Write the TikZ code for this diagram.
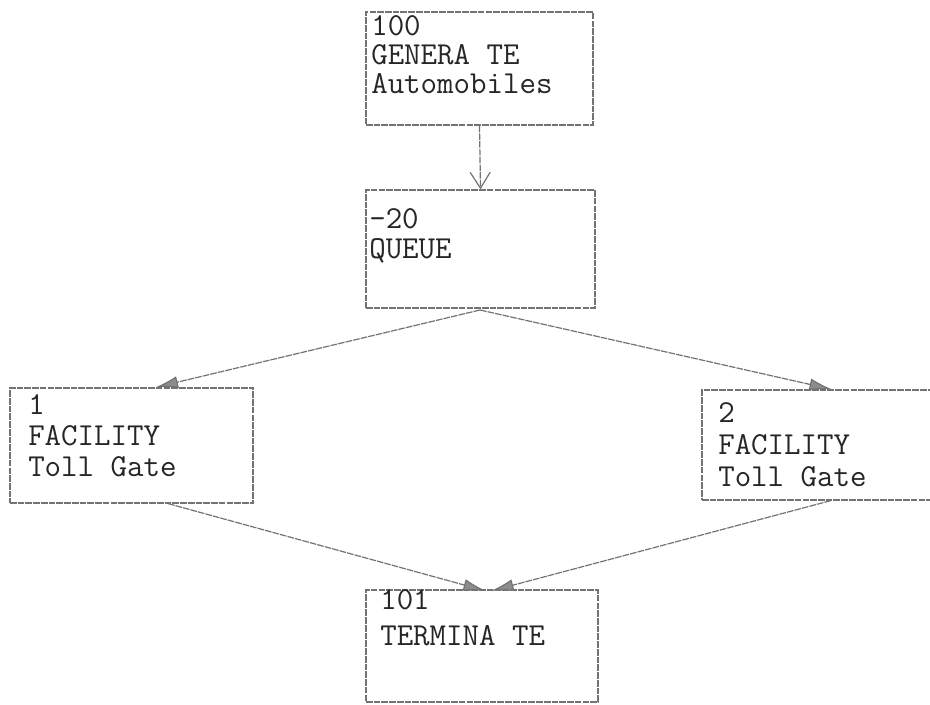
\documentclass[tikz,border=0pt]{standalone}
\usepackage{fontspec}
\usetikzlibrary{arrows.meta,calc}
\begin{document}
\begin{tikzpicture}[x=0.75pt,y=-0.75pt,
  blk/.style={draw=black!55, line width=0.9pt, dash pattern=on 5pt off 0.8pt, rectangle, inner sep=0pt},
  lbl/.style={anchor=base west, inner sep=0pt, align=left, font=\ttfamily\fontsize{24}{23}\selectfont, text=black!85},
  flow/.style={draw=black!55, line width=0.9pt, dash pattern=on 5pt off 0.8pt},
  openhead/.style={-{Straight Barb[length=12pt,width=15pt,line width=0.9pt]}},
  fillhead/.style={-{Latex[length=17pt,width=9pt,fill=black!45]}}
]
\useasboundingbox[fill=white] (0,0) rectangle (930,705);

% blocks
\node[blk, minimum width=170.25pt, minimum height=84.75pt] (gen) at (479.5,68.5) {};
\node[blk, minimum width=171.75pt, minimum height=88.5pt] (queue) at (480.5,249) {};
\node[blk, minimum width=182.25pt, minimum height=86.25pt] (f1) at (131.5,445.5) {};
\node[blk, minimum width=182.25pt, minimum height=82.5pt] (f2) at (823.5,445) {};
\node[blk, minimum width=174pt, minimum height=84pt] (term) at (482,646) {};

% texts (anchor = baseline of the last line)
\node[lbl] (genT) at (371,94) {100\\[-1pt]GENERA TE\\[-1pt]Automobiles};
\node[lbl] (queueT) at (369,259) {-20\\[0pt]QUEUE};
\node[lbl] (f1T) at (28,476) {1\\[0pt]FACILITY\\[0pt]Toll Gate};
\node[lbl] (f2T) at (718,486) {2\\[1pt]FACILITY\\[1pt]Toll Gate};
\node[lbl] (termT) at (380,645) {101\\[4pt]TERMINA TE};

% connector end points
\coordinate (qout) at (480,310);
\coordinate (f1in) at ($(f1.north west)!0.598!(f1.north east)$);
\coordinate (f2in) at ($(f2.north west)!0.535!(f2.north east)$);
\coordinate (f1out) at ($(f1.south west)!0.65!(f1.south east)$);
\coordinate (f2out) at ($(f2.south west)!0.53!(f2.south east)$);
\coordinate (tinL) at (486,591);
\coordinate (tinR) at (491,591);

% connectors
\draw[flow, openhead] (gen.south) -- (queue.north);
\draw[flow, fillhead] (qout) -- (f1in);
\draw[flow, fillhead] (qout) -- (f2in);
\draw[flow, fillhead] (f1out) -- (tinL);
\draw[flow, fillhead] (f2out) -- (tinR);
\end{tikzpicture}
\end{document}
